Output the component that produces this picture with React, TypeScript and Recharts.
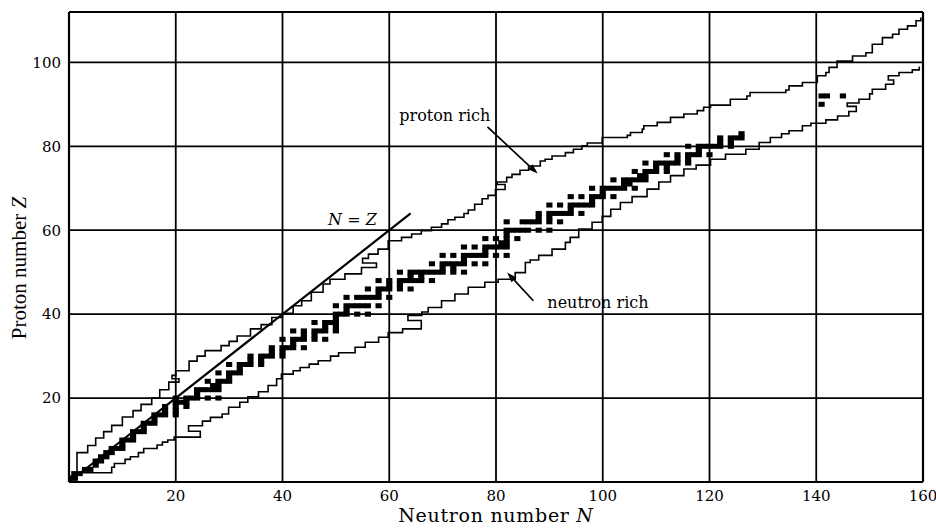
import React from "react";
import {
  ComposedChart,
  XAxis,
  YAxis,
  CartesianGrid,
  Line,
  ReferenceArea,
  ReferenceLine,
  ReferenceDot,
} from "recharts";

const X_TICKS = [20, 40, 60, 80, 100, 120, 140, 160];
const Y_TICKS = [20, 40, 60, 80, 100];

// stable nuclei: [Z, neutron numbers N]
const STABLE_LIGHT: [number, number[]][] = [
  [1, [0, 1]], [2, [1, 2]], [3, [3, 4]], [4, [5]], [5, [5, 6]], [6, [6, 7]],
  [7, [7, 8]], [8, [8, 9, 10]], [9, [10]], [10, [10, 11, 12]], [11, [12]],
  [12, [12, 13, 14]], [13, [14]], [14, [14, 15, 16]], [15, [16]],
  [16, [16, 17, 18, 20]], [17, [18, 20]], [18, [18, 20, 22]], [19, [20, 21, 22]],
  [20, [20, 22, 23, 24, 26, 28]],
];

const STABLE_MEDIUM: [number, number[]][] = [
  [21, [24]], [22, [24, 25, 26, 27, 28]], [23, [27, 28]], [24, [26, 28, 29, 30]],
  [25, [30]], [26, [28, 30, 31, 32]], [27, [32]], [28, [30, 32, 33, 34, 36]],
  [29, [34, 36]], [30, [34, 36, 37, 38, 40]], [31, [38, 40]],
  [32, [38, 40, 41, 42, 44]], [33, [42]], [34, [40, 42, 43, 44, 46, 48]],
  [35, [44, 46]], [36, [42, 44, 46, 47, 48, 50]], [37, [48, 50]],
  [38, [46, 48, 49, 50]], [39, [50]], [40, [50, 51, 52, 54, 56]], [41, [52]],
  [42, [50, 52, 53, 54, 55, 56, 58]], [44, [52, 54, 55, 56, 57, 58, 60]],
  [45, [58]], [46, [56, 58, 59, 60, 62, 64]], [47, [60, 62]],
  [48, [58, 60, 62, 63, 64, 65, 66, 68]], [49, [64, 66]],
  [50, [62, 64, 65, 66, 67, 68, 69, 70, 72, 74]],
];

const STABLE_HEAVY: [number, number[]][] = [
  [51, [70, 72]], [52, [68, 70, 71, 72, 73, 74, 76, 78]], [53, [74]],
  [54, [70, 72, 74, 75, 76, 77, 78, 80, 82]], [55, [78]],
  [56, [74, 76, 78, 79, 80, 81, 82]], [57, [81, 82]], [58, [78, 80, 82, 84]],
  [59, [82]], [60, [82, 83, 84, 85, 86, 88, 90]], [62, [82, 85, 86, 87, 88, 90, 92]],
  [63, [88, 90]], [64, [88, 90, 91, 92, 93, 94, 96]], [65, [94]],
  [66, [90, 92, 94, 95, 96, 97, 98]], [67, [98]], [68, [94, 96, 98, 99, 100, 102]],
  [69, [100]], [70, [98, 100, 101, 102, 103, 104, 106]], [71, [104, 105]],
  [72, [102, 104, 105, 106, 107, 108]], [73, [107, 108]],
  [74, [106, 108, 109, 110, 112]], [75, [110, 112]],
  [76, [108, 110, 111, 112, 113, 114, 116]], [77, [114, 116]],
  [78, [112, 114, 116, 117, 118, 120]], [79, [118]],
  [80, [116, 118, 119, 120, 121, 122, 124]], [81, [122, 124]],
  [82, [122, 124, 125, 126]], [83, [126]], [90, [141]], [92, [141, 142, 145]],
];

// edge of known nuclei, proton side (step corners [N, Z])
const PROTON_EDGE: [number, number][] = [
  [0.3, 0.6], [1.5, 7], [3.5, 8.7], [5, 10.5], [6.5, 12], [8, 13.5], [10, 15.5],
  [12, 17], [13.5, 18.5], [15.5, 20], [17, 22], [18.7, 23.8], [20.6, 24.6],
  [19.3, 25.4], [20, 26.5], [22.5, 28.8], [24, 30], [25.5, 31.3], [28.5, 32.5],
  [30, 33.5], [31.5, 34.8], [34, 36.5], [36, 37.5], [38, 39.2], [40, 40.2],
  [42, 42], [43.6, 43.2], [45.4, 45.2], [47.6, 47.2], [48.9, 48.3], [51.7, 49.6],
  [54.8, 51.1], [57.6, 52.2], [55, 53.3], [56.1, 54.3], [57.9, 55.5], [59.8, 57.5],
  [62.3, 58.3], [64.2, 59.1], [66, 59.9], [67.9, 60.7], [69.8, 61.5], [71, 62.5],
  [72.3, 63.1], [74, 64], [74.8, 64.8], [76, 66.2], [77.4, 67.5], [78.5, 68.3],
  [79.9, 69.7], [81.7, 70.9], [80.2, 71.5], [82, 72.6], [83, 73.3], [84.5, 74.3],
  [86.1, 75.3], [88.3, 76.5], [89.2, 76.9], [90.5, 77.7], [93, 78.5], [94.5, 79.3],
  [96.1, 80.1], [97.1, 80.8], [99.9, 82.1], [104.6, 82.6], [105.2, 83.3],
  [107.4, 84.1], [107.7, 84.9], [110.2, 85.7], [112.7, 86.9], [115.2, 87.7],
  [117.7, 88.5], [118.9, 89.3], [120.2, 89.8], [123.9, 91.2], [127, 92],
  [127.6, 92.8], [134.3, 93.4], [134.9, 94.4], [137.4, 95.2], [140.2, 96.8],
  [141.8, 97.6], [142.4, 98.8], [143.9, 100.3], [146.8, 101.5], [149.3, 102.3],
  [150.5, 104.3], [152.4, 105.9], [154.3, 106.7], [155.5, 107.9], [157.1, 108.7],
  [158.7, 109.9], [159.6, 110.7],
];

// edge of known nuclei, neutron side (step corners [N, Z])
const NEUTRON_EDGE: [number, number][] = [
  [0.5, 0.5], [1.5, 2.2], [8, 3.5], [8.5, 4.4], [10.5, 5.4], [11.5, 6], [13, 7],
  [14, 8], [16.5, 8.8], [17.5, 9.5], [18.5, 10], [19.7, 10.7], [24.6, 12.1],
  [22.4, 13.4], [25, 14.5], [26.5, 15.4], [28.7, 16.2], [29.9, 17.8], [32, 19],
  [33.5, 20.3], [35.5, 21.5], [37.3, 23], [38.9, 24.6], [39.8, 25.7], [42, 26.5],
  [43.3, 27.3], [45, 28.1], [46.7, 28.9], [49, 30], [50.5, 30.8], [53.6, 32.1],
  [55.5, 33.3], [58, 34.5], [59.8, 35.6], [62.5, 36.5], [66, 38.5], [63.5, 39.7],
  [66.1, 40.5], [67.3, 41.6], [69.8, 43.2], [72.3, 44.8], [74.8, 46.4],
  [77.9, 47.6], [80.4, 48.3], [83.6, 49.9], [85.5, 52.3], [86.4, 52.9], [88, 54],
  [90.5, 55.5], [93, 57.1], [93.9, 58.3], [95.5, 60.3], [98, 61.9], [99.9, 63.3],
  [101.5, 65], [103.3, 66.6], [105.5, 68], [108.3, 69.8], [110.5, 71.5],
  [112.7, 73], [115.2, 74.6], [117.5, 75.5], [120.2, 76.9], [123, 78.1],
  [126.8, 79.3], [129.3, 80.9], [131.4, 82.1], [133.5, 83], [134.9, 83.7],
  [137.4, 84.9], [139, 85.5], [141.8, 86.3], [144, 87.2], [146.1, 88.3],
  [147.5, 89.5], [145.8, 90.3], [148, 91.2], [150, 92.5], [150.5, 93.6],
  [153, 94.8], [154.5, 95.8], [153.5, 96.8], [155.5, 97.6], [158, 98.2],
  [159.3, 99],
];

const INK = "#000";
const SERIF = "'DejaVu Serif', serif";

const cells = [...STABLE_LIGHT, ...STABLE_MEDIUM, ...STABLE_HEAVY].flatMap(
  ([z, ns]) => ns.map((n) => ({ n, z }))
);
const protonData = PROTON_EDGE.map(([n, z]) => ({ n, z }));
const neutronData = NEUTRON_EDGE.map(([n, z]) => ({ n, z }));

const Arrow = (p: any) => {
  const { x1, y1, x2, y2 } = p;
  const a = Math.atan2(y2 - y1, x2 - x1);
  const len = 10;
  const w = 3.5;
  const bx = x2 - len * Math.cos(a);
  const by = y2 - len * Math.sin(a);
  const pts = `${x2},${y2} ${bx - w * Math.sin(a)},${by + w * Math.cos(a)} ${
    bx + w * Math.sin(a)
  },${by - w * Math.cos(a)}`;
  return (
    <g>
      <line x1={x1} y1={y1} x2={bx} y2={by} stroke={INK} strokeWidth={1.7} />
      <polygon points={pts} fill={INK} />
    </g>
  );
};

const textAt = (content: React.ReactNode) => (p: any) => (
  <text
    x={p.cx}
    y={p.cy}
    dy="0.35em"
    textAnchor="middle"
    fontFamily={SERIF}
    fontSize={16}
    fill={INK}
  >
    {content}
  </text>
);

const XTitle = (props: any) => {
  const vb = props.viewBox || { x: 69, y: 482, width: 854 };
  return (
    <text
      x={vb.x + vb.width / 2}
      y={vb.y + 40}
      textAnchor="middle"
      fontFamily={SERIF}
      fontSize={19}
      letterSpacing={0.7}
      fill={INK}
    >
      Neutron number <tspan fontStyle="italic">N</tspan>
    </text>
  );
};

const YTitle = (props: any) => {
  const vb = props.viewBox || { x: 0, y: 12, height: 470 };
  const cx = 19;
  const cy = vb.y + 256;
  return (
    <text
      x={cx}
      y={cy}
      transform={`rotate(-90, ${cx}, ${cy})`}
      dy="0.35em"
      textAnchor="middle"
      fontFamily="'Liberation Serif', serif"
      fontSize={21}
      fill={INK}
    >
      Proton number <tspan fontStyle="italic">Z</tspan>
    </text>
  );
};

export default function App() {
  const tick = { fill: INK, fontSize: 15, fontFamily: SERIF };
  return (
    <div style={{ width: 936, height: 530, background: "#fff" }}>
      <style>{"body{margin:0;background:#fff}"}</style>
      <ComposedChart
        width={936}
        height={530}
        margin={{ top: 12, right: 13, left: 0, bottom: 0 }}
      >
        <CartesianGrid stroke={INK} strokeWidth={1.8} />
        <XAxis
          type="number"
          dataKey="n"
          domain={[0, 160]}
          ticks={X_TICKS}
          allowDataOverflow
          tickLine={false}
          axisLine={{ stroke: INK, strokeWidth: 2.2 }}
          height={48}
          tick={tick}
          label={<XTitle />}
        />
        <YAxis
          type="number"
          dataKey="z"
          domain={[0, 112]}
          ticks={Y_TICKS}
          allowDataOverflow
          tickLine={false}
          axisLine={{ stroke: INK, strokeWidth: 2.2 }}
          width={69}
          tick={tick}
          label={<YTitle />}
        />
        <ReferenceLine x={160} stroke={INK} strokeWidth={2.2} />
        <ReferenceLine y={112} stroke={INK} strokeWidth={2.2} />

        {cells.map((c, i) => (
          <ReferenceArea
            key={`cell-${i}`}
            x1={c.n - 0.58}
            x2={c.n + 0.58}
            y1={c.z - 0.6}
            y2={c.z + 0.6}
            fill="#000"
            fillOpacity={1}
            stroke="none"
            ifOverflow="hidden"
          />
        ))}

        <Line
          data={protonData}
          dataKey="z"
          type="stepAfter"
          stroke={INK}
          strokeWidth={1.6}
          dot={false}
          activeDot={false}
          isAnimationActive={false}
        />
        <Line
          data={neutronData}
          dataKey="z"
          type="stepAfter"
          stroke={INK}
          strokeWidth={1.6}
          dot={false}
          activeDot={false}
          isAnimationActive={false}
        />

        <ReferenceLine
          segment={[{ x: 0, y: 0 }, { x: 64, y: 64 }]}
          stroke={INK}
          strokeWidth={2.2}
        />
        <ReferenceLine
          segment={[{ x: 78.4, y: 84.6 }, { x: 87.8, y: 73.5 }]}
          shape={Arrow}
        />
        <ReferenceLine
          segment={[{ x: 87, y: 43.2 }, { x: 82.1, y: 49.9 }]}
          shape={Arrow}
        />

        <ReferenceDot x={70.4} y={87.3} r={0} shape={textAt("proton rich")} />
        <ReferenceDot x={99.1} y={42.8} r={0} shape={textAt("neutron rich")} />
        <ReferenceDot
          x={53.1}
          y={62.5}
          r={0}
          shape={textAt(
            <>
              <tspan fontStyle="italic">N</tspan> = <tspan fontStyle="italic">Z</tspan>
            </>
          )}
        />
      </ComposedChart>
    </div>
  );
}
